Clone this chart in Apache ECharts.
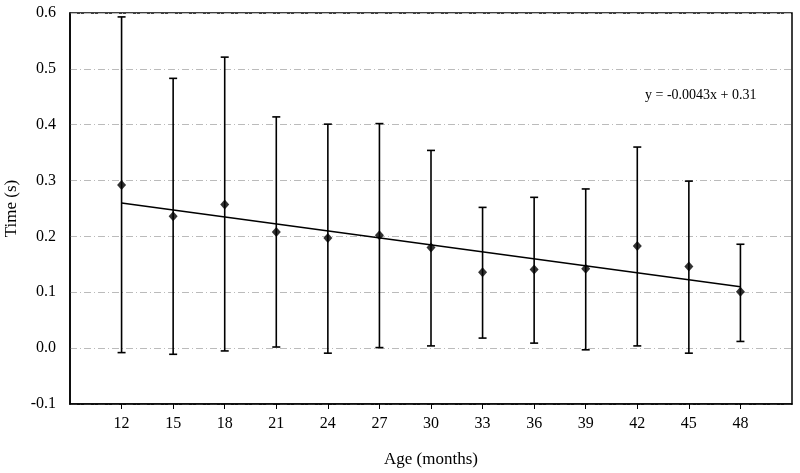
<!DOCTYPE html>
<html>
<head>
<meta charset="utf-8">
<script src="https://cdn.jsdelivr.net/npm/echarts@6/dist/echarts.min.js"></script>
<style>
  html, body { margin: 0; padding: 0; background: #fff; }
  #chart { width: 800px; height: 473px; }
</style>
</head>
<body>
<div id="chart"></div>
<script>
// ages in months (x categories)
const ages = [12, 15, 18, 21, 24, 27, 30, 33, 36, 39, 42, 45, 48];
// mean time (s)
const means = [0.292, 0.236, 0.257, 0.208, 0.197, 0.202, 0.180, 0.136, 0.141, 0.142, 0.183, 0.146, 0.101];
// error bar ends
const upper = [0.593, 0.483, 0.521, 0.414, 0.401, 0.402, 0.354, 0.252, 0.270, 0.285, 0.360, 0.299, 0.186];
const lower = [-0.008, -0.011, -0.005, 0.002, -0.009, 0.001, 0.004, 0.018, 0.009, -0.003, 0.004, -0.009, 0.012];
// linear trend line ends
const trendX = [12, 48];
const trendY = [0.26, 0.11];
const trendLabel = "y = -0.0043x + 0.31";

const chart = echarts.init(document.getElementById("chart"));
const serif = "'Liberation Serif', 'DejaVu Serif', serif";

const option = {
  backgroundColor: "#fff",
  animation: false,
  textStyle: { fontFamily: serif },
  grid: {
    left: 70,
    right: 8,
    top: 13,
    bottom: 69,
    outerBoundsMode: "none",
    containLabel: false,
    show: true,
    borderColor: "#000",
    borderWidth: 1.5,
    backgroundColor: "transparent",
  },
  xAxis: {
    type: "value",
    min: 9,
    max: 51,
    interval: 3,
    name: "Age (months)",
    nameLocation: "middle",
    nameGap: 47,
    nameTextStyle: { fontFamily: serif, fontSize: 17, color: "#000" },
    axisLine: { show: true, onZero: false, lineStyle: { color: "#000", width: 1.5 } },
    axisTick: {
      show: true,
      length: 5,
      customValues: ages,
      lineStyle: { color: "#000", width: 1 },
    },
    axisLabel: {
      customValues: ages,
      margin: 12,
      fontFamily: serif,
      fontSize: 16,
      color: "#000",
    },
    splitLine: { show: false },
  },
  yAxis: {
    type: "value",
    min: -0.1,
    max: 0.6,
    interval: 0.1,
    name: "Time (s)",
    nameLocation: "middle",
    nameRotate: 90,
    nameGap: 47,
    nameTextStyle: { fontFamily: serif, fontSize: 17, color: "#000" },
    axisLine: { show: true, onZero: false, lineStyle: { color: "#000", width: 1.5 } },
    axisTick: { show: false },
    axisLabel: {
      margin: 14,
      fontFamily: serif,
      fontSize: 16,
      color: "#000",
      formatter: (v) => v.toFixed(1),
    },
    splitLine: {
      show: true,
      lineStyle: { color: "#bbb", type: [7, 3, 1, 3], width: 1 },
    },
  },
  series: [
    {
      type: "custom",
      name: "error",
      data: ages.map((a, i) => [a, lower[i], upper[i]]),
      renderItem: (params, api) => {
        const x = api.value(0);
        const lo = api.coord([x, api.value(1)]);
        const hi = api.coord([x, api.value(2)]);
        const cap = 4;
        const style = { stroke: "#000", lineWidth: 1.6 };
        return {
          type: "group",
          children: [
            { type: "line", shape: { x1: lo[0], y1: lo[1], x2: hi[0], y2: hi[1] }, style },
            { type: "line", shape: { x1: hi[0] - cap, y1: hi[1], x2: hi[0] + cap, y2: hi[1] }, style },
            { type: "line", shape: { x1: lo[0] - cap, y1: lo[1], x2: lo[0] + cap, y2: lo[1] }, style },
          ],
        };
      },
      z: 2,
    },
    {
      type: "line",
      name: "trend",
      data: trendX.map((x, i) => [x, trendY[i]]),
      symbol: "none",
      lineStyle: { color: "#000", width: 1.5 },
      z: 3,
    },
    {
      type: "scatter",
      name: "mean",
      data: ages.map((a, i) => [a, means[i]]),
      symbol: "diamond",
      symbolSize: [9, 10],
      itemStyle: { color: "#000" },
      z: 4,
    },
  ],
  graphic: [
    {
      type: "text",
      left: 645,
      top: 88,
      style: {
        text: trendLabel,
        font: "14px " + serif,
        fill: "#000",
      },
    },
  ],
};

chart.setOption(option);
</script>
</body>
</html>
